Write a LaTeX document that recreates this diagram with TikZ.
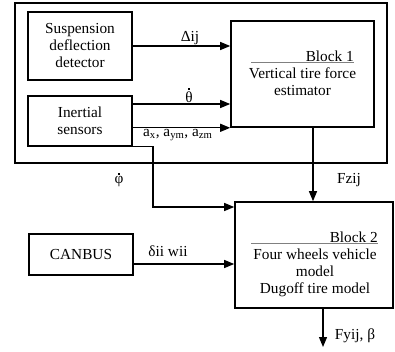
\documentclass[tikz,border=0pt]{standalone}
\usepackage{fontspec}
\setmainfont{Liberation Serif}
\usetikzlibrary{arrows.meta}
\newcommand\mydotacc[1]{\leavevmode\setbox0\hbox{#1}\rlap{\hbox to\wd0{\hss\raisebox{\dimexpr\ht0+1.8pt\relax}{\rule{1.7pt}{1.7pt}}\hss}}\box0}
\begin{document}
\begin{tikzpicture}[x=1pt,y=-1pt,
  every node/.style={font=\fontsize{15.3pt}{17pt}\selectfont, inner sep=0pt},
  box/.style={draw, line width=1.6pt, rectangle},
  conn/.style={line width=1.2pt},
  arr/.style={conn, -{Triangle[length=10pt,width=8pt]}},
  lbl/.style={anchor=center}]
\useasboundingbox (0,0) rectangle (395,351);
% boxes
\node[box, minimum width=372pt, minimum height=160pt] (outer) at (201,83) {};
\node[box, minimum width=104pt, minimum height=68pt, align=center] (susp) at (80,46) {Suspension\\deflection\\detector};
\node[box, minimum width=104pt, minimum height=50pt, align=center] (inert) at (80,121) {Inertial\\sensors};
\node[box, minimum width=143pt, minimum height=106pt] (blk1) at (302.5,74) {};
\node[box, minimum width=104pt, minimum height=41pt] (canbus) at (81,254.5) {CANBUS};
\node[box, minimum width=158pt, minimum height=106pt] (blk2) at (314,255) {};
% block texts
\node[anchor=east] (b1t) at (354,56) {Block 1};
\draw[line width=0.6pt, gray] (251,62) -- (354,62);
\node[align=center] (b1d) at (302.5,82) {Vertical tire force\\estimator};
\node[anchor=east] (b2t) at (378,237) {Block 2};
\draw[line width=0.6pt, gray] (251,243) -- (378,243);
\node[align=center] (b2d) at (315,273) {Four wheels vehicle\\model\\Dugoff tire model};
% connectors
\draw[arr] (susp.east) -- (susp.east -| blk1.west);
\draw[arr] (inert.east |- 0,104) -- (blk1.west |- 0,104);
\draw[arr] (inert.east |- blk1.south west) -- (blk1.south west);
\coordinate (c1) at (153,207);
\draw[arr] (inert.south east) -| (c1) -- (c1 -| blk2.west);
\draw[arr] (canbus.east |- 0,264) -- (blk2.west |- 0,264);
\draw[arr] (blk1.south -| 313,0) -- (blk2.north -| 313,0);
\coordinate (c2) at (323,347);
\draw[arr] (blk2.south -| c2) -- (c2);
% labels
\node[lbl] (l1) at (190,38) {Δij};
\node[lbl] (l2) at (189,95) {\mydotacc{θ}};
\node[anchor=west] (l3) at (143,135) {a\textsubscript{x}, a\textsubscript{ym}, a\textsubscript{zm}};
\node[lbl] (l4) at (119,180) {\mydotacc{φ}};
\node[lbl] (l5) at (168,251) {δii wii};
\node[lbl] (l6) at (349,180) {Fzij};
\node[lbl] (l7) at (355,336) {Fyij, β};
\end{tikzpicture}
\end{document}
